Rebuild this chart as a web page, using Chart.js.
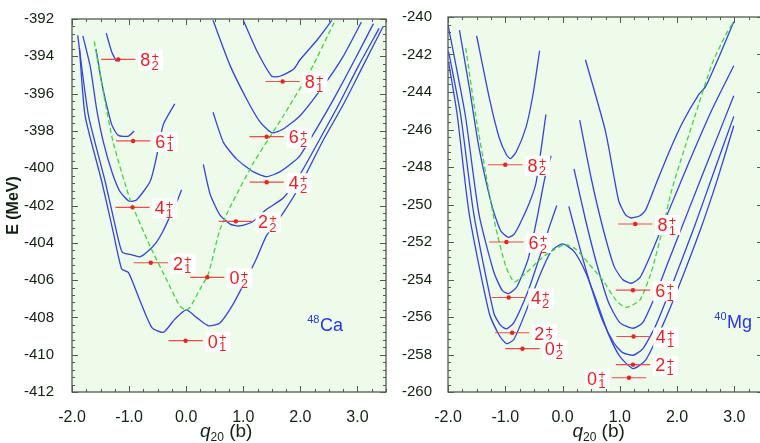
<!doctype html>
<html lang="en">
<head>
<meta charset="UTF-8" />
<title>Projected energy curves - 48Ca / 40Mg</title>
<script src="https://cdn.jsdelivr.net/npm/chart.js@4.4.0/dist/chart.umd.min.js"></script>
<style>
  html, body { margin: 0; padding: 0; background: #fff; width: 760px; height: 443px; overflow: hidden; }
  .panel { position: absolute; top: 0; }
  #caWrap { left: 0; width: 392px; height: 443px; }
  #mgWrap { left: 392px; width: 376px; height: 443px; }
</style>
</head>
<body>
<div class="panel" id="caWrap"><canvas id="caChart" width="392" height="443"></canvas></div>
<div class="panel" id="mgWrap"><canvas id="mgChart" width="376" height="443"></canvas></div>
<script>
// ---- axes ----
const xTicks = [-2, -1, 0, 1, 2, 3];
const caYTicks = [-392, -394, -396, -398, -400, -402, -404, -406, -408, -410, -412];
const mgYTicks = [-240, -242, -244, -246, -248, -250, -252, -254, -256, -258, -260];

// ---- 48Ca curves [q20, E] ----
const caI0 = [[-1.87,-393.55],[-1.77,-397.2],[-1.48,-400.7],[-1.28,-403.4],[-1.13,-405.4],[-1.01,-405.6],[-0.81,-407.1],[-0.6,-408.55],[-0.4,-408.8],[-0.2,-408.1],[0.0,-407.6],[0.18,-408.0],[0.39,-408.45],[0.59,-408.3],[0.82,-407.3],[1.06,-405.9],[1.23,-404.85],[1.41,-403.6],[1.7,-402.4],[2.0,-400.9],[2.4,-398.5],[2.75,-396.6],[3.1,-394.5],[3.45,-392.4]];
const caI2L = [[-1.9,-392.88],[-1.71,-397.2],[-1.42,-400.7],[-1.22,-403.4],[-1.12,-404.5],[-0.95,-404.65],[-0.81,-404.75],[-0.65,-404.4],[-0.52,-403.96],[-0.4,-403.34],[-0.28,-402.55],[-0.15,-401.7],[-0.08,-401.15]];
const caI2R = [[0.3,-399.8],[0.42,-401.4],[0.59,-402.5],[0.77,-403.0],[0.92,-403.1],[1.15,-402.9],[1.41,-402.2],[1.7,-401.6],[2.0,-400.3],[2.33,-398.5],[2.67,-396.6],[3.02,-394.5],[3.38,-392.5]];
const caI4L = [[-1.81,-392.9],[-1.68,-394.55],[-1.57,-396.8],[-1.45,-398.6],[-1.3,-400.2],[-1.16,-401.25],[-1.0,-401.77],[-0.87,-401.7],[-0.63,-400.7],[-0.52,-399.4],[-0.4,-397.65],[-0.2,-396.55]];
const caI4R = [[0.47,-397.0],[0.65,-398.6],[0.88,-399.5],[1.18,-400.2],[1.41,-400.45],[1.64,-400.2],[1.88,-399.66],[2.0,-399.3],[2.3,-397.8],[2.6,-396.2],[2.95,-394.2],[3.28,-392.25]];
const caI6L = [[-1.58,-393.6],[-1.48,-395.4],[-1.39,-396.66],[-1.3,-397.7],[-1.19,-398.24],[-1.01,-398.28],[-0.91,-398.0]];
const caI6R = [[0.47,-392.07],[0.77,-394.5],[1.06,-396.3],[1.29,-397.5],[1.5,-398.1],[1.7,-397.9],[1.99,-397.2],[2.4,-395.6],[2.75,-394.0],[3.07,-392.16]];
const caI8L = [[-1.4,-392.76],[-1.3,-393.8],[-1.22,-394.28]];
const caI8R = [[1.0,-392.07],[1.23,-393.66],[1.5,-395.07],[1.64,-395.07],[1.88,-394.7],[1.99,-394.2],[2.3,-393.1],[2.55,-392.07]];
const caMF = [[-1.61,-393.2],[-1.45,-395.95],[-1.28,-398.6],[-0.98,-401.7],[-0.63,-404.2],[-0.34,-406.0],[-0.11,-407.4],[0.0,-407.6],[0.07,-407.45],[0.24,-406.5],[0.39,-405.65],[0.59,-403.3],[0.8,-401.9],[1.18,-399.7],[1.45,-398.4],[1.7,-397.2],[2.17,-394.8],[2.59,-392.2]];

// ---- 48Ca levels ----
const caLevelQ = [-1.19, -0.93, -0.94, -0.62, -0.01, 0.37, 0.87, 1.41, 1.41, 1.69];
const caLevelE = [-394.17, -398.54, -402.1, -405.07, -409.25, -405.85, -402.85, -400.75, -398.31, -395.35];
const caSpin = ['8', '6', '4', '2', '0', '0', '2', '4', '6', '8'];
const caIdx = ['2', '1', '1', '1', '1', '2', '2', '2', '2', '1'];
const caSide = ['r', 'r', 'r', 'r', 'r', 'r', 'r', 'r', 'r', 'r'];

// ---- 40Mg curves [q20, E] ----
const mgI0 = [[-1.99,-242.4],[-1.84,-245.2],[-1.63,-250.5],[-1.28,-255.8],[-1.1,-257.0],[-0.98,-257.42],[-0.85,-257.2],[-0.6,-255.4],[-0.4,-253.8],[-0.2,-252.5],[0.0,-252.1],[0.2,-252.5],[0.4,-253.6],[0.6,-255.2],[0.8,-256.9],[1.0,-258.1],[1.23,-258.75],[1.45,-258.3],[1.74,-256.5],[2.0,-254.6],[2.4,-251.4],[2.7,-248.7],[2.99,-245.8]];
const mgI2L = [[-1.99,-241.84],[-1.78,-245.2],[-1.55,-250.5],[-1.2,-255.8],[-1.08,-256.45],[-0.98,-256.63],[-0.85,-256.3],[-0.6,-254.6],[-0.4,-252.8],[-0.22,-251.1],[-0.1,-250.05]];
const mgI2R = [[0.11,-250.1],[0.3,-252.3],[0.5,-254.4],[0.7,-256.2],[0.9,-257.4],[1.05,-257.9],[1.23,-258.04],[1.4,-257.7],[1.62,-256.5],[1.9,-254.4],[2.3,-251.2],[2.65,-248.2],[2.99,-245.3]];
const mgI4L = [[-2.0,-240.4],[-1.7,-245.2],[-1.46,-250.5],[-1.2,-253.6],[-1.05,-254.6],[-0.94,-254.75],[-0.8,-254.4],[-0.6,-252.9],[-0.45,-250.8],[-0.31,-248.6],[-0.2,-247.4]];
const mgI4R = [[0.2,-248.1],[0.4,-250.8],[0.6,-253.2],[0.8,-255.2],[1.0,-256.3],[1.23,-256.6],[1.4,-256.3],[1.6,-255.0],[1.86,-252.95],[2.2,-250.3],[2.6,-247.2],[2.99,-244.2]];
const mgI6L = [[-1.8,-240.7],[-1.62,-243.9],[-1.46,-246.95],[-1.23,-250.1],[-1.08,-251.4],[-0.95,-251.75],[-0.85,-251.6],[-0.75,-251.07],[-0.57,-249.84],[-0.46,-248.8],[-0.29,-245.2]];
const mgI6R = [[0.3,-245.5],[0.5,-248.6],[0.7,-251.2],[0.9,-253.3],[1.05,-254.0],[1.2,-254.2],[1.35,-253.9],[1.55,-252.6],[1.86,-250.3],[2.2,-247.8],[2.6,-245.0],[2.99,-242.6]];
const mgI8L = [[-1.5,-241.0],[-1.28,-244.3],[-1.11,-246.4],[-0.98,-247.35],[-0.91,-247.55],[-0.81,-247.2],[-0.64,-245.9],[-0.52,-244.2],[-0.4,-241.8]];
const mgI8R = [[0.4,-242.28],[0.75,-246.1],[0.98,-249.8],[1.1,-250.55],[1.2,-250.72],[1.35,-250.6],[1.45,-250.3],[1.62,-249.0],[1.86,-247.2],[2.1,-245.6],[2.38,-244.13],[2.5,-243.7],[2.75,-242.0],[2.99,-240.25]];
const mgMF = [[-1.69,-241.66],[-1.52,-245.19],[-1.34,-248.36],[-1.17,-251.18],[-0.99,-253.3],[-0.84,-254.13],[-0.64,-253.65],[-0.45,-253.1],[-0.28,-252.66],[0.04,-252.13],[0.24,-252.4],[0.47,-253.2],[0.71,-254.07],[0.94,-255.13],[1.11,-255.49],[1.35,-255.1],[1.55,-253.6],[1.74,-251.4],[1.9,-249.3],[2.1,-247.3],[2.32,-245.2],[2.61,-242.5],[2.85,-240.95],[2.99,-240.25]];

// ---- 40Mg levels ----
const mgLevelQ = [-1.0, -0.98, -0.94, -0.88, -0.70, 1.27, 1.23, 1.24, 1.23, 1.16];
const mgLevelE = [-247.88, -252.0, -254.96, -256.84, -257.69, -251.04, -254.57, -257.04, -258.54, -259.24];
const mgSpin = ['8', '6', '4', '2', '0', '8', '6', '4', '2', '0'];
const mgIdx = ['2', '2', '2', '2', '2', '1', '1', '1', '1', '1'];
const mgSide = ['r', 'r', 'r', 'r', 'r', 'r', 'r', 'r', 'r', 'l'];

const barHalf = 0.3;   // half width of the q20 bar on each level

// ---- styles ----
const FONT = '"Liberation Sans", Arial, Helvetica, sans-serif';
const BLUE = '#3444e2';
const GREEN = '#3cd83c';
const RED = '#f01e1e';
const BARC = '#f24a4a';
const AXIS = '#4e5e4e';
const TXT = '#112211';
const BG = '#eefaea';

// lower "order" is painted later, so on top
function curve(pts, color, dash, order) {
  return {
    data: pts.map(p => ({ x: p[0], y: p[1] })),
    showLine: true, borderColor: color, backgroundColor: color, borderWidth: 1.3,
    borderDash: dash || [], pointRadius: 0, tension: 0.2, fill: false, order: order
  };
}

function levelSets(qs, es) {
  const sets = qs.map((q, i) => ({
    data: [{ x: q - barHalf, y: es[i] }, { x: q + barHalf, y: es[i] }],
    showLine: true, borderColor: BARC, backgroundColor: BARC, borderWidth: 1.2,
    pointRadius: 0, tension: 0, order: 1
  }));
  sets.push({
    data: qs.map((q, i) => ({ x: q, y: es[i] })),
    pointRadius: 2.2, backgroundColor: RED, borderColor: RED,
    pointBorderWidth: 0, showLine: false, order: 0
  });
  return sets;
}

function drawLevel(ctx, xEdge, yc, spin, idx, side) {
  ctx.font = '18px ' + FONT;
  const wm = ctx.measureText(spin).width;
  ctx.font = '13px ' + FONT;
  const ws = Math.max(ctx.measureText('+').width, ctx.measureText(idx).width);
  const bw = 2.5 + wm + 1.2 + ws + 4, bh = 20;
  const bx = side === 'l' ? xEdge - 2 - bw : xEdge + 2.5;
  ctx.fillStyle = '#fff';
  ctx.fillRect(bx, yc - 9, bw, bh);
  ctx.fillStyle = RED;
  ctx.textAlign = 'left';
  ctx.textBaseline = 'alphabetic';
  ctx.font = '18px ' + FONT;
  ctx.fillText(spin, bx + 2.5, yc + 6.8);
  ctx.font = '13px ' + FONT;
  ctx.fillText('+', bx + 2.5 + wm + 1.2, yc + 1.2);
  ctx.fillText(idx, bx + 2.5 + wm + 1.2, yc + 10.5);
}

function decoPlugin(p) {
  return {
    id: 'deco',
    beforeDraw(chart) {
      const { ctx, chartArea: a } = chart;
      ctx.save();
      ctx.fillStyle = '#fff';
      ctx.fillRect(0, 0, chart.width, chart.height);
      ctx.fillStyle = BG;
      ctx.fillRect(a.left, a.top, a.right - a.left, a.bottom - a.top);
      ctx.restore();
    },
    afterDatasetsDraw(chart) {
      const { ctx, chartArea: a, scales: { x, y } } = chart;
      ctx.save();

      // level labels
      p.levelQ.forEach((q, i) => {
        const side = p.side[i];
        const edge = x.getPixelForValue(side === 'l' ? q - barHalf : q + barHalf);
        drawLevel(ctx, edge, y.getPixelForValue(p.levelE[i]), p.spin[i], p.idx[i], side);
      });

      // nucleus tag
      const nx = x.getPixelForValue(p.tag.q), ny = y.getPixelForValue(p.tag.e);
      ctx.fillStyle = '#2536ee';
      ctx.textAlign = 'left';
      ctx.textBaseline = 'alphabetic';
      ctx.font = '11px ' + FONT;
      ctx.fillText(p.tag.a, nx, ny - 8);
      const wa = ctx.measureText(p.tag.a).width;
      ctx.font = '18px ' + FONT;
      ctx.fillText(p.tag.sym, nx + wa + 0.5, ny);

      // frame and inward ticks
      ctx.strokeStyle = AXIS;
      ctx.lineWidth = 1.3;
      ctx.strokeRect(a.left, a.top, a.right - a.left, a.bottom - a.top);
      ctx.lineWidth = 1;
      ctx.beginPath();
      for (let v = x.min; v <= x.max + 1e-9; v += 0.25) {
        const px = Math.round(x.getPixelForValue(v)) + 0.5;
        const len = Math.abs(v - Math.round(v)) < 1e-6 ? 6 : 3;
        ctx.moveTo(px, a.bottom); ctx.lineTo(px, a.bottom - len);
        ctx.moveTo(px, a.top); ctx.lineTo(px, a.top + len);
      }
      for (let k = 0; k <= 50; k++) {
        const v = y.min + k * 0.4;
        const py = Math.round(y.getPixelForValue(v)) + 0.5;
        const len = k % 5 === 0 ? 6 : 3;
        ctx.moveTo(a.left, py); ctx.lineTo(a.left + len, py);
        ctx.moveTo(a.right, py); ctx.lineTo(a.right - len, py);
      }
      ctx.stroke();

      // x title: q20 (b)
      const cx = x.getPixelForValue(p.titleQ), by = 437;
      ctx.fillStyle = TXT;
      ctx.font = 'italic 19px ' + FONT;
      const wq = ctx.measureText('q').width;
      ctx.font = '12px ' + FONT;
      const w20 = ctx.measureText('20').width;
      ctx.font = '19px ' + FONT;
      const wb = ctx.measureText(' (b)').width;
      const sx = cx - (wq + w20 + wb) / 2;
      ctx.font = 'italic 19px ' + FONT;
      ctx.fillText('q', sx, by);
      ctx.font = '12px ' + FONT;
      ctx.fillText('20', sx + wq, by + 4);
      ctx.font = '19px ' + FONT;
      ctx.fillText(' (b)', sx + wq + w20, by);

      // y title
      if (p.yTitle) {
        ctx.translate(14, (a.top + a.bottom) / 2);
        ctx.rotate(-Math.PI / 2);
        ctx.font = 'bold 16px ' + FONT;
        ctx.textAlign = 'center';
        ctx.textBaseline = 'middle';
        ctx.fillText(p.yTitle, 0, 0);
      }
      ctx.restore();
    }
  };
}

function makePanel(id, cfg) {
  const datasets = cfg.curves.map(c => curve(c, BLUE, null, 3))
    .concat([curve(cfg.mf, GREEN, [5, 3], 2)])
    .concat(levelSets(cfg.levelQ, cfg.levelE));
  return new Chart(document.getElementById(id), {
    type: 'scatter',
    data: { datasets },
    options: {
      responsive: false,
      animation: false,
      devicePixelRatio: 1,
      layout: { padding: { left: 0, right: cfg.padRight, top: 14, bottom: 0 } },
      plugins: { legend: { display: false }, tooltip: { enabled: false } },
      scales: {
        x: {
          type: 'linear', min: -2, max: 3.5,
          afterBuildTicks: s => { s.ticks = xTicks.map(v => ({ value: v })); },
          afterFit: s => { s.height = 51; },
          grid: { display: false }, border: { display: false },
          ticks: { callback: v => v.toFixed(1), font: { family: FONT, size: 16 }, color: TXT, padding: 8, maxRotation: 0, autoSkip: false }
        },
        y: {
          type: 'linear', min: cfg.yTicks[cfg.yTicks.length - 1], max: cfg.yTicks[0],
          afterBuildTicks: s => { s.ticks = cfg.yTicks.map(v => ({ value: v })); },
          afterFit: s => { s.width = cfg.yWidth; },
          grid: { display: false }, border: { display: false },
          ticks: { callback: v => String(v), font: { family: FONT, size: 15 }, color: TXT, padding: cfg.yPad, autoSkip: false }
        }
      }
    },
    plugins: [decoPlugin(cfg)]
  });
}

makePanel('caChart', {
  curves: [caI0, caI2L, caI2R, caI4L, caI4R, caI6L, caI6R, caI8L, caI8R],
  mf: caMF, levelQ: caLevelQ, levelE: caLevelE, spin: caSpin, idx: caIdx, side: caSide,
  yTicks: caYTicks, yWidth: 72, yPad: 10, padRight: 6,
  tag: { a: '48', sym: 'Ca', q: 2.12, e: -408.72 },
  titleQ: 0.7, yTitle: 'E (MeV)'
});

makePanel('mgChart', {
  curves: [mgI0, mgI2L, mgI2R, mgI4L, mgI4R, mgI6L, mgI6R, mgI8L, mgI8R],
  mf: mgMF, levelQ: mgLevelQ, levelE: mgLevelE, spin: mgSpin, idx: mgIdx, side: mgSide,
  yTicks: mgYTicks, yWidth: 56, yPad: 8, padRight: 5,
  tag: { a: '40', sym: 'Mg', q: 2.65, e: -256.6 },
  titleQ: 0.63, yTitle: null
});
</script>
</body>
</html>
